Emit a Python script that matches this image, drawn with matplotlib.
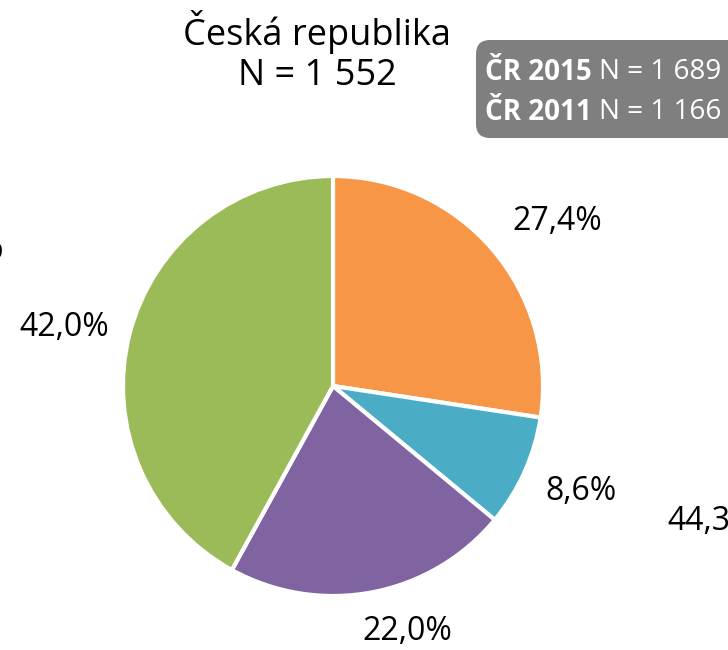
import matplotlib
matplotlib.use("Agg")
import matplotlib.pyplot as plt
from matplotlib.patches import FancyBboxPatch

categories = ["A", "B", "C", "D"]
values = [27.4, 8.6, 22.0, 42.0]
value_labels = ["27,4%", "8,6%", "22,0%", "42,0%"]
colors = ["#F79646", "#4BACC6", "#8064A2", "#9BBB59"]
title_lines = ["Česká republika", "N = 1 552"]
box_years = ["ČR 2015", "ČR 2011"]
box_n = ["N = 1 689", "N = 1 166"]

W, H = 728, 650
fig = plt.figure(figsize=(W / 100, H / 100), dpi=100)
ax = fig.add_axes([0, 0, 1, 1])
ax.set_xlim(0, W)
ax.set_ylim(0, H)
ax.set_aspect("equal")
ax.axis("off")

font = "Open Sans"

cx, cy, r = 333, H - 386, 210
ax.pie(values, colors=colors, startangle=90, counterclock=False,
       center=(cx, cy), radius=r,
       wedgeprops=dict(edgecolor="white", linewidth=3))
ax.set_xlim(0, W)
ax.set_ylim(0, H)

label_pos = [(557, 222), (581, 492), (407, 631), (64, 327)]
for (x, y), t in zip(label_pos, value_labels):
    ax.text(x, H - y, t, ha="center", va="center", fontsize=23,
            family=font, color="black")

ax.text(317, H - 32, title_lines[0], ha="center", va="center", fontsize=26, family=font)
ax.text(317, H - 76, title_lines[1], ha="center", va="center", fontsize=26, family=font)

# grey info box
box = FancyBboxPatch((476, H - 138), 300, 98, boxstyle="round,pad=0,rounding_size=14",
                     facecolor="#7F7F7F", edgecolor="none")
ax.add_patch(box)
for i, (yr, n) in enumerate(zip(box_years, box_n)):
    yy = H - (72 + 40 * i)
    t1 = ax.text(485, yy, yr, ha="left", va="center", fontsize=20,
                 fontweight="bold", color="white", family=font)
    fig.canvas.draw()
    bb = t1.get_window_extent()
    ax.text(bb.x1 + 7, yy, n, ha="left", va="center", fontsize=20,
            color="white", family=font)

# fragments of neighbouring charts
ax.text(667, H - 522, "44,3%", ha="left", va="center", fontsize=23, family=font)
ax.text(3, H - 249, "%", ha="right", va="center", fontsize=23, family=font)

fig.savefig("out.png", dpi=100)
